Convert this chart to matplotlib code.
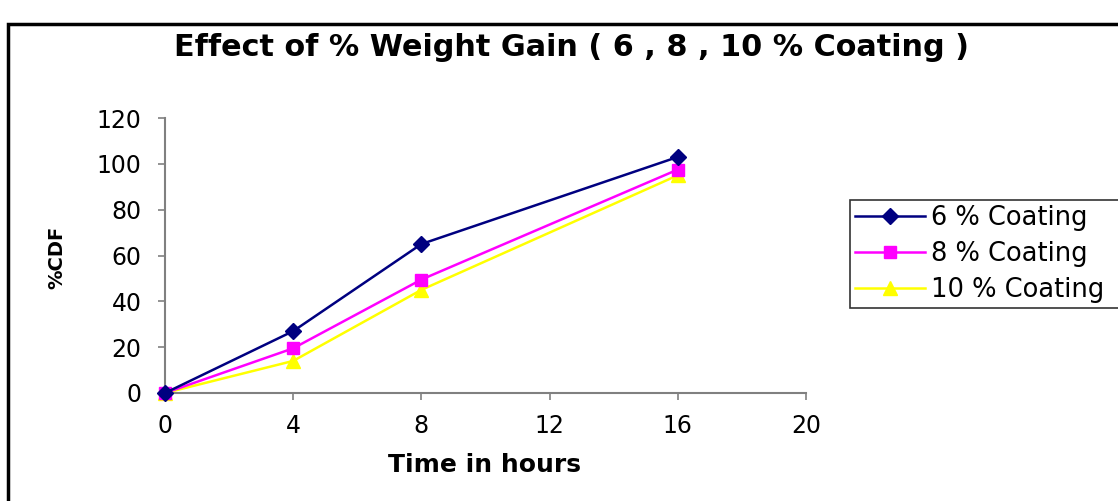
import matplotlib
matplotlib.use("Agg")
import matplotlib.pyplot as plt
from matplotlib.patches import Rectangle

time_hours = [0, 4, 8, 16]
coat6 = [0, 27, 65, 103]
coat8 = [0, 19.5, 49.5, 97.5]
coat10 = [0, 14, 45, 95]
series_labels = ["6 % Coating", "8 % Coating", "10 % Coating"]
x_ticks = [0, 4, 8, 12, 16, 20]
y_ticks = [0, 20, 40, 60, 80, 100, 120]

plt.rcParams['font.family'] = ['DejaVu Sans']

fig = plt.figure(figsize=(11.18, 5.01), dpi=100)
ax = fig.add_axes([165/1118, 1-393/501, (806-165)/1118, (393-118)/501])

ax.plot(time_hours, coat6, color='#000080', marker='D', markersize=8, lw=1.8, label=series_labels[0], clip_on=False, zorder=5)
ax.plot(time_hours, coat8, color='#FF00FF', marker='s', markersize=9, lw=1.8, label=series_labels[1], clip_on=False, zorder=4)
ax.plot(time_hours, coat10, color='#FFFF00', marker='^', markersize=10, lw=1.8, label=series_labels[2], clip_on=False, zorder=3)

ax.set_xlim(0, 20)
ax.set_ylim(0, 120)
ax.set_xticks(x_ticks)
ax.set_yticks(y_ticks)
for s in ['top', 'right']:
    ax.spines[s].set_visible(False)
for s in ['left', 'bottom']:
    ax.spines[s].set_color('#808080')
    ax.spines[s].set_linewidth(1.5)
ax.tick_params(axis='both', direction='out', length=5, width=1.2, color='#808080', labelsize=17)
ax.tick_params(axis='x', pad=10)
ax.tick_params(axis='y', pad=12)

fig.text(485/1118, 1-465/501, "Time in hours", fontsize=18, fontweight='bold', ha='center', va='center')
fig.text(57/1118, 1-257/501, "%CDF", rotation=90, fontsize=14, fontweight='bold', ha='center', va='center')
fig.text(571/1118, 1-48/501, "Effect of % Weight Gain ( 6 , 8 , 10 % Coating )", fontsize=21.8, fontweight='bold', ha='center', va='center')

leg = fig.legend(loc='upper left', bbox_to_anchor=(850/1118, 1-307/501, 300/1118, 107/501), mode='expand',
                 fontsize=18.5, frameon=True, fancybox=False, edgecolor='black', handlelength=2.7,
                 borderpad=0.2, labelspacing=0.38, handletextpad=0.25, borderaxespad=0)
leg.get_frame().set_linewidth(1.2)

fig.patches.append(Rectangle((8/1118, -0.1), 1.2, 1-24/501+0.1, transform=fig.transFigure,
                             fill=False, edgecolor='black', linewidth=2.5))

fig.savefig("out.png", dpi=100)
